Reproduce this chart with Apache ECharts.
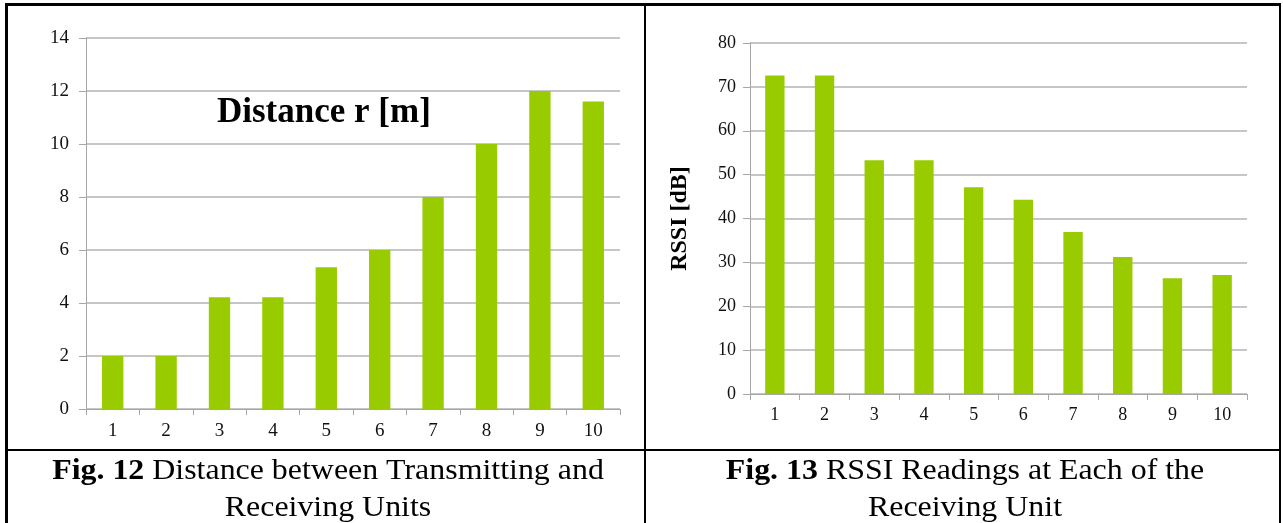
<!DOCTYPE html>
<html>
<head>
<meta charset="utf-8">
<script src="https://cdn.jsdelivr.net/npm/echarts@6/dist/echarts.min.js"></script>
<style>
html,body{margin:0;padding:0;background:#fff;}
#c{width:1283px;height:523px;}
</style>
</head>
<body>
<div id="c"></div>
<script>
const categories = ['1','2','3','4','5','6','7','8','9','10'];
const distance = [2, 2, 4.22, 4.22, 5.35, 6, 8, 10, 12, 11.6];
const rssi = [72.6, 72.6, 53.3, 53.3, 47.1, 44.3, 36.9, 31.2, 26.4, 27.1];
const distAxis = {min: 0, max: 14, interval: 2};
const rssiAxis = {min: 0, max: 80, interval: 10};
const chartTitle = 'Distance r [m]';
const rssiName = 'RSSI [dB]';
const caption12 = ['Fig. 12', ' Distance between Transmitting and', 'Receiving Units'];
const caption13 = ['Fig. 13', ' RSSI Readings at Each of the', 'Receiving Unit'];

const FONT = 'Liberation Serif';
const BAR = '#99cc00';
const AXIS = '#a6a6a6';
const GRID = '#b3b3b3';

function xAxis(gi, margin, size){
  return {
    type:'category', gridIndex:gi, data:categories,
    axisLine:{show:true, lineStyle:{color:AXIS, width:1}},
    axisTick:{show:true, length:6, lineStyle:{color:AXIS}},
    axisLabel:{fontFamily:FONT, fontSize:size, color:'#111', margin:margin}
  };
}
function yAxis(gi, ax, margin, size, extra){
  return Object.assign({
    type:'value', gridIndex:gi, min:ax.min, max:ax.max, interval:ax.interval,
    axisLine:{show:true, lineStyle:{color:AXIS, width:1}},
    axisTick:{show:true, length:7, lineStyle:{color:AXIS}},
    splitLine:{show:true, lineStyle:{color:GRID, width:1.5}},
    axisLabel:{fontFamily:FONT, fontSize:size, color:'#111', margin:margin}
  }, extra||{});
}

function caption(cx, parts){
  return {type:'text', x:cx, y:453, scaleX:1.1, style:{
    text:'{b|'+parts[0]+'}{r|'+parts[1]+'}\n{r|'+parts[2]+'}',
    align:'center', verticalAlign:'top', lineHeight:37,
    rich:{b:{font:'bold 29px "Liberation Serif"', fill:'#000', lineHeight:37},
          r:{font:'29px "Liberation Serif"', fill:'#000', lineHeight:37}}
  }};
}

const chart = echarts.init(document.getElementById('c'), null, {renderer:'canvas'});
chart.setOption({
  animation:false,
  grid:[
    {left:86, right:663, top:38, bottom:114},
    {left:750, right:36, top:43, bottom:129}
  ],
  xAxis:[xAxis(0, 13, 19), xAxis(1, 12, 18)],
  yAxis:[
    yAxis(0, distAxis, 17, 19),
    yAxis(1, rssiAxis, 14, 18, {name:rssiName, nameLocation:'middle', nameRotate:90, nameGap:58,
      nameTextStyle:{fontFamily:FONT, fontSize:24, fontWeight:'bold', color:'#000'}})
  ],
  series:[
    {type:'bar', xAxisIndex:0, yAxisIndex:0, data:distance, barWidth:'40%', itemStyle:{color:BAR}},
    {type:'bar', xAxisIndex:1, yAxisIndex:1, data:rssi, barWidth:'39%', itemStyle:{color:BAR}}
  ],
  graphic:[
    {type:'text', left:217, top:95, style:{text:chartTitle, font:'bold 35px "Liberation Serif"', fill:'#000'}},
    // borders
    {type:'rect', shape:{x:5, y:3, width:1276, height:3}, style:{fill:'#000'}},
    {type:'rect', shape:{x:5, y:3, width:3, height:520}, style:{fill:'#000'}},
    {type:'rect', shape:{x:644, y:3, width:2, height:520}, style:{fill:'#000'}},
    {type:'rect', shape:{x:1279, y:3, width:2, height:520}, style:{fill:'#000'}},
    {type:'rect', shape:{x:5, y:449, width:1276, height:2}, style:{fill:'#000'}},
    caption(328, caption12),
    caption(965, caption13)
  ]
});
</script>
</body>
</html>
